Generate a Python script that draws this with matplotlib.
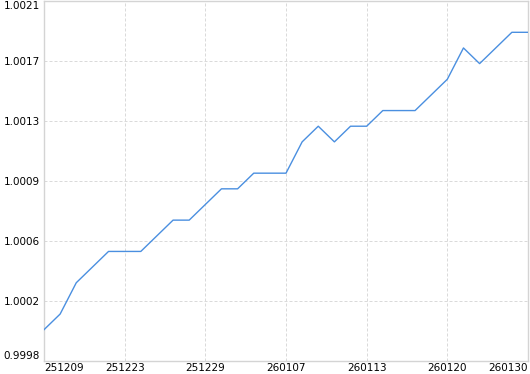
import matplotlib
matplotlib.use("Agg")
import matplotlib.pyplot as plt
import numpy as np

values = [1.0000, 1.0001, 1.0003, 1.0004, 1.0005, 1.0005, 1.0005, 1.0006, 1.0007, 1.0007,
          1.0008, 1.0009, 1.0009, 1.0010, 1.0010, 1.0010, 1.0012, 1.0013, 1.0012, 1.0013,
          1.0013, 1.0014, 1.0014, 1.0014, 1.0015, 1.0016, 1.0018, 1.0017, 1.0018, 1.0019,
          1.0019]
tick_positions = [0, 5, 10, 15, 20, 25, 30]
tick_labels = ["251209", "251223", "251229", "260107", "260113", "260120", "260130"]
y_tick_labels = ["0.9998", "1.0002", "1.0006", "1.0009", "1.0013", "1.0017", "1.0021"]
y_min, y_max = 0.9998, 1.0021

W, H = 530, 374
fig = plt.figure(figsize=(W / 100, H / 100), dpi=100)
ax = fig.add_axes([44 / W, (H - 361) / H, (528 - 44) / W, 360 / H])

x = np.arange(len(values))
ax.plot(x, values, color="#4a8fe0", linewidth=1.0, zorder=3)

ax.set_xlim(0, len(values) - 1)
ax.set_ylim(y_min, y_max)

yt = np.linspace(y_min, y_max, len(y_tick_labels))
ax.set_yticks(yt)
ax.set_yticklabels(y_tick_labels)
ax.set_xticks(tick_positions)
ax.set_xticklabels(tick_labels)

ax.grid(True, color="#dadada", linestyle=(0, (3, 2)), linewidth=0.72, zorder=0)
for s in ax.spines.values():
    s.set_color("#d4d4d4")
    s.set_linewidth(1.0)

ax.tick_params(axis="both", length=0, labelsize=7.5, colors="#000000", pad=3)
ax.tick_params(axis="x", pad=1.5)

xl = ax.get_xticklabels()
xl[0].set_ha("left")
xl[-1].set_ha("right")
yl = ax.get_yticklabels()
yl[0].set_va("bottom")
yl[-1].set_va("top")

fig.savefig("out.png", dpi=100, facecolor="white")
